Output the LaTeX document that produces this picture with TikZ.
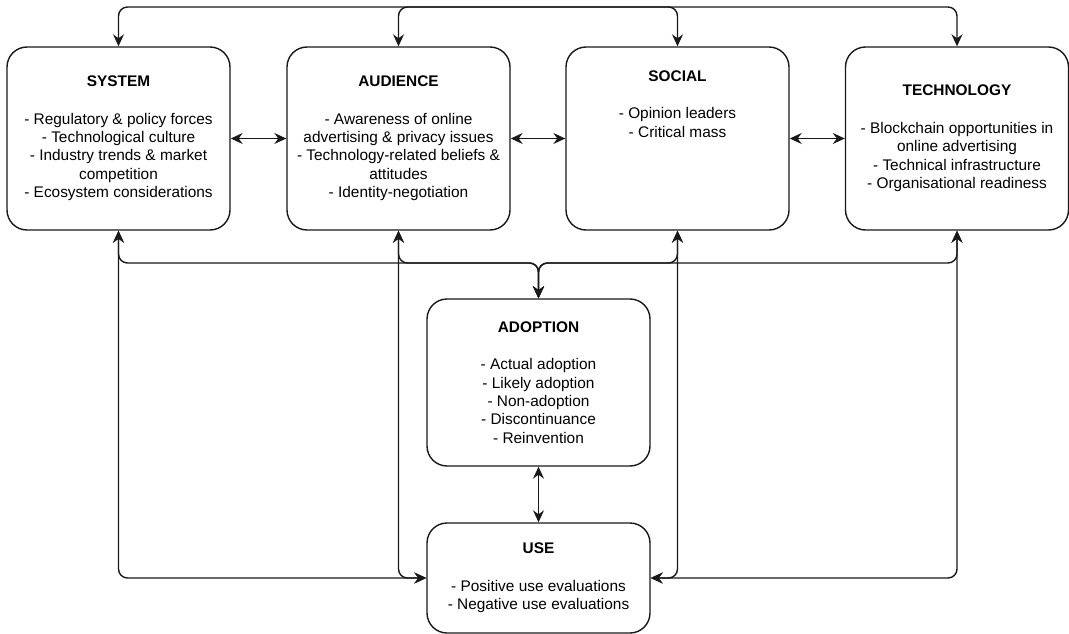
\documentclass[tikz,border=0pt]{standalone}
\usepackage{fontspec}
\setmainfont{Liberation Sans}
\usetikzlibrary{arrows.meta,calc}
\begin{document}
\begin{tikzpicture}[x=1pt,y=-1pt,
  txt/.style={align=center, font=\fontsize{15.4}{18.4}\selectfont, inner sep=0pt, text=black},
  box/.style={txt, draw=black!90, line width=1.4pt, rounded corners=20pt, minimum width=223pt, minimum height=183pt},
  tip/.tip={Stealth[length=12pt,width=11pt,inset=4pt]},
  conn/.style={draw=black!90, line width=1.4pt, rounded corners=9pt, {tip}-{tip}},
]
\useasboundingbox (0,0) rectangle (1069,634);
\coordinate (topbus) at (0,7);
\coordinate (lowbus) at (0,263);

\node[box] (system) at (118.5,138.5) {\textbf{SYSTEM}\\[19pt]- Regulatory \& policy forces\\- Technological culture\\- Industry trends \& market\\competition\\- Ecosystem considerations};
\node[box] (audience) at (398.5,138.5) {\textbf{AUDIENCE}\\[19pt]- Awareness of online\\advertising \& privacy issues\\- Technology-related beliefs \&\\attitudes\\- Identity-negotiation};
\node[box] (social) at (677.5,138.5) {};
\node[txt] (socialtxt) at (677.5,104) {\textbf{SOCIAL}\\[19pt]- Opinion leaders\\- Critical mass};
\node[box] (technology) at (957,138.5) {\textbf{TECHNOLOGY}\\[19pt]- Blockchain opportunities in\\online advertising\\- Technical infrastructure\\- Organisational readiness};
\node[box, minimum height=167pt] (adoption) at (538.5,382.5) {\textbf{ADOPTION}\\[19pt]- Actual adoption\\- Likely adoption\\- Non-adoption\\- Discontinuance\\- Reinvention};
\node[box, minimum height=110pt] (use) at (538.5,578) {\textbf{USE}\\[19pt]- Positive use evaluations\\- Negative use evaluations};

% horizontal links between top boxes
\draw[conn] (system.east) -- (audience.west);
\draw[conn] (audience.east) -- (social.west);
\draw[conn] (social.east) -- (technology.west);

% top bus
\draw[conn] (system.north) -- (system.north |- topbus) -- (social.north |- topbus) -- (social.north);
\draw[conn] (audience.north) -- (audience.north |- topbus) -- (technology.north |- topbus) -- (technology.north);

% lower bus to adoption
\draw[conn] (system.south) -- (system.south |- lowbus) -- (adoption.north |- lowbus) -- (adoption.north);
\draw[conn] (audience.south) -- (audience.south |- lowbus) -- (adoption.north |- lowbus) -- (adoption.north);
\draw[conn] (social.south) -- (social.south |- lowbus) -- (adoption.north |- lowbus) -- (adoption.north);
\draw[conn] (technology.south) -- (technology.south |- lowbus) -- (adoption.north |- lowbus) -- (adoption.north);

% links to use
\draw[conn] (system.south) |- (use.west);
\draw[conn] (audience.south) |- (use.west);
\draw[conn] (social.south) |- (use.east);
\draw[conn] (technology.south) |- (use.east);
\draw[conn] (adoption.south) -- (use.north);
\end{tikzpicture}
\end{document}
